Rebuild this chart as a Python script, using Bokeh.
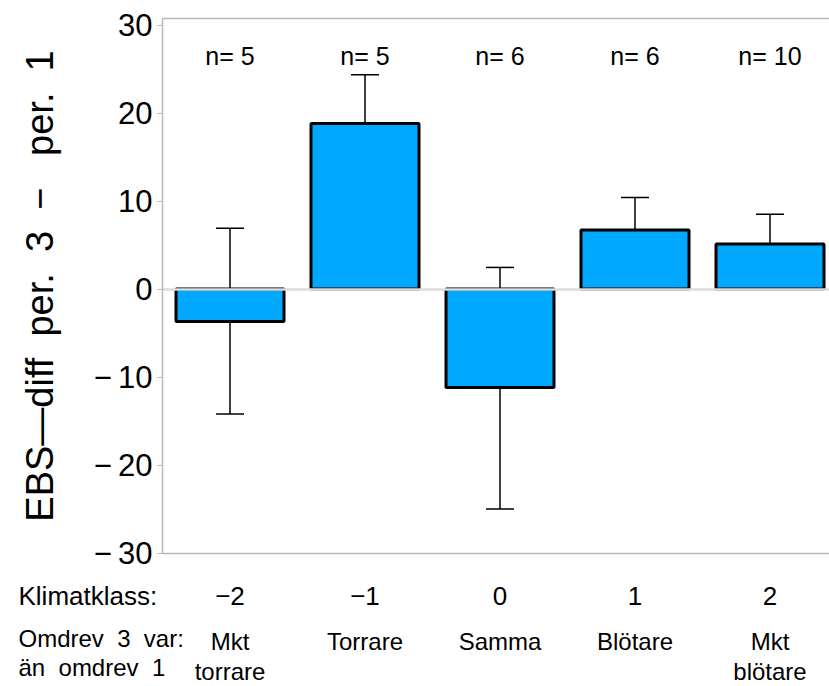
from bokeh.plotting import figure
from bokeh.models import (ColumnDataSource, FixedTicker, LinearAxis, Range1d,
                          Whisker, TeeHead, Label)
from bokeh.core.properties import value
from bokeh.embed import file_html
from bokeh.resources import INLINE

# ---- data ----
klass = [1, 2, 3, 4, 5]
klass_labels = ["\u22122", "\u22121", "0", "1", "2"]
desc_labels = ["Mkt\ntorrare", "Torrare", "Samma", "Blötare", "Mkt\nblötare"]
means = [-3.7, 18.8, -11.2, 6.7, 5.1]
upper = [6.9, 24.35, 2.45, 10.4, 8.5]
lower = [-14.2, 13.15, -25.0, 2.9, 1.7]
n_counts = [5, 5, 6, 6, 10]
n_text = ["n= %d" % n for n in n_counts]
yticks = [-30, -20, -10, 0, 10, 20, 30]
y_lo, y_hi = -30.0, 30.75

FONT = "Liberation Sans"
NB = "\u00a0"
W, H = 829, 686
PXX, PXY = 135.0, 8.8        # pixels per data unit
LEFT_PX, ZERO_PX = 162, 288.5  # frame-left and zero-line positions (px)
X_START = 0.5 - LEFT_PX / PXX
X_END = X_START + W / PXX
Y_END = ZERO_PX / PXY
Y_START = Y_END - H / PXY

def ypx(py):
    return Y_END - py / PXY

def xpx(px):
    return X_START + px / PXX

src = ColumnDataSource(dict(x=klass, top=means, upper=upper, lower=lower,
                            ntext=n_text, ny=[ypx(55)] * len(klass)))

p = figure(width=W, height=H, title=None,
           x_range=Range1d(X_START, X_END), y_range=Range1d(Y_START, Y_END),
           output_backend="svg", toolbar_location=None,
           x_axis_location=None, y_axis_location=None,
           min_border=0)
p.outline_line_color = None
p.grid.visible = False
p.background_fill_color = "white"
p.border_fill_color = "white"

GRAY = "#b4b8bc"

# bars
p.vbar(x="x", top="top", bottom=0, width=0.8, source=src,
       fill_color="#00A9FF", line_color="black", line_width=3)

# zero line (drawn over bar edges, like the reference)
zl = LinearAxis(fixed_location=0, bounds=(0.5, X_END), ticker=FixedTicker(ticks=[]),
                axis_line_color="#dcdcdc", axis_line_width=2.5,
                major_tick_line_color=None, minor_tick_line_color=None,
                major_label_text_font_size="0px")
p.add_layout(zl, "below")

# error bars
w = Whisker(base="x", upper="upper", lower="lower", source=src,
            line_color="black", line_width=1.5,
            upper_head=TeeHead(size=28, line_color="black", line_width=1.5),
            lower_head=TeeHead(size=28, line_color="black", line_width=1.5))
p.add_layout(w)

# n labels
p.text(x="x", y="ny", text="ntext", source=src, text_align="center",
       text_baseline="middle", text_font=value(FONT), text_font_size="25px",
       text_color="black")

# y axis
ya = LinearAxis(fixed_location=0.5, bounds=(y_lo, y_hi), ticker=FixedTicker(ticks=yticks))
ya.major_label_overrides = {t: (("\u2212\u2009%d" % -t) if t < 0 else "%d" % t) for t in yticks}
ya.major_label_text_font = FONT
ya.major_label_text_font_size = "31px"
ya.major_label_text_color = "black"
ya.axis_line_color = GRAY
ya.axis_line_width = 1.5
ya.major_tick_line_color = GRAY
ya.major_tick_in = 0
ya.major_tick_out = 5
ya.minor_tick_line_color = None
ya.major_label_standoff = 5
ya.axis_label = ("EBS\u2014diff" + NB * 2 + "per." + NB * 2 + "3" + NB * 2 + "\u2212"
                 + NB * 3 + "per." + NB * 2 + "1")
ya.axis_label_text_font = FONT
ya.axis_label_text_font_style = "normal"
ya.axis_label_text_font_size = "38px"
ya.axis_label_text_color = "black"
ya.axis_label_standoff = 30
p.add_layout(ya, "left")

# top line
ta = LinearAxis(fixed_location=y_hi, bounds=(0.5, X_END), ticker=FixedTicker(ticks=[]),
                axis_line_color=GRAY, axis_line_width=1.5,
                major_tick_line_color=None, minor_tick_line_color=None,
                major_label_text_font_size="0px")
p.add_layout(ta, "above")

# bottom axis: klimatklass
xa = LinearAxis(fixed_location=y_lo, bounds=(0.5, X_END), ticker=FixedTicker(ticks=klass),
                major_label_overrides={k: l for k, l in zip(klass, klass_labels)})
xa.axis_line_color = GRAY
xa.axis_line_width = 1.5
xa.major_tick_line_color = None
xa.minor_tick_line_color = None
xa.major_label_text_font = FONT
xa.major_label_text_font_size = "26px"
xa.major_label_text_color = "black"
xa.major_label_standoff = 28
p.add_layout(xa, "below")

xb = LinearAxis(fixed_location=y_lo, bounds=(0.5, X_END), ticker=FixedTicker(ticks=klass),
                major_label_overrides={k: l for k, l in zip(klass, desc_labels)})
xb.axis_line_color = None
xb.major_tick_line_color = None
xb.minor_tick_line_color = None
xb.major_label_text_font = FONT
xb.major_label_text_font_size = "24px"
xb.major_label_text_color = "black"
xb.major_label_text_line_height = 1.12
xb.major_label_standoff = 69
p.add_layout(xb, "below")

# left-side row titles
for txt, py, fs in [("Klimatklass:", 595, "26px"),
                    ("Omdrev" + NB * 2 + "3" + NB * 2 + "var:", 638, "24px"),
                    ("än" + NB * 2 + "omdrev" + NB * 2 + "1", 667, "24px")]:
    p.add_layout(Label(x=xpx(18), y=ypx(py), text=txt, text_align="left",
                       text_baseline="alphabetic", text_font=FONT,
                       text_font_size=fs, text_color="black"))

open("out.html", "w").write(file_html(p, INLINE))
